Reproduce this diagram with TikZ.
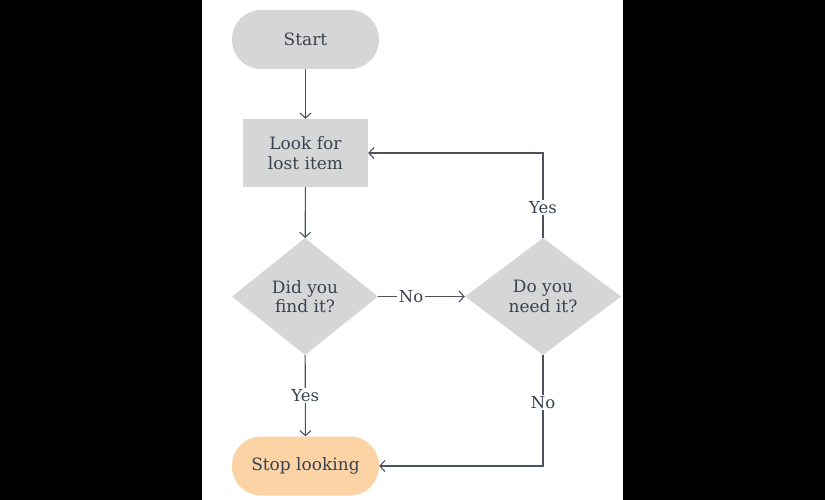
\documentclass[tikz,border=0pt]{standalone}
\usepackage{fontspec}
\setmainfont{DejaVu Serif}
\usetikzlibrary{shapes.geometric,arrows.meta}
\definecolor{boxgray}{HTML}{D6D6D6}
\definecolor{stoporange}{HTML}{FBD3A5}
\definecolor{linegray}{HTML}{4B5360}
\definecolor{textgray}{HTML}{3A4250}
\begin{document}
\begin{tikzpicture}[x=1pt,y=-1pt,
    every node/.style={text=textgray,font=\fontsize{17}{19.5}\selectfont,align=center},
    pill/.style={fill=boxgray,rounded corners=29pt,minimum width=147pt,minimum height=59pt},
    task/.style={fill=boxgray,minimum width=125pt,minimum height=68pt,inner sep=0pt},
    ask/.style={diamond,fill=boxgray,inner sep=0pt,minimum width=146pt,minimum height=117pt},
    arr/.style={draw=linegray,line width=1.1pt,-{Straight Barb[length=5pt,width=11pt]}},
    lbl/.style={fill=white,inner sep=1.5pt,font=\fontsize{16.5}{19}\selectfont}]
        \fill[black] (0,0) rectangle (825,500);
        \fill[white] (202,0) rectangle (623,500);
        \node[pill] (start) at (305.5,39.5) {Start};
        \node[task] (look) at (305.5,153) {Look for\\lost item};
        \node[ask] (found) at (305,296.5) {Did you\\find it?};
        \node[ask,minimum width=156pt] (need) at (543,296.5) {Do you\\need it?};
        \node[pill,fill=stoporange] (stop) at (305.5,466) {Stop looking};
        \draw[arr] (start) -- (look);
        \draw[arr] (look) -- (found);
        \draw[arr] (found) -- node[lbl,pos=0.38]{No} (need);
        \draw[arr] (need) -- node[lbl,pos=0.36]{Yes} (need |- look) -- (look);
        \draw[arr] (found) -- node[lbl]{Yes} (stop);
        \draw[arr] (need) -- node[lbl,pos=0.43]{No} (need |- stop) -- (stop);
    \end{tikzpicture}
\end{document}
